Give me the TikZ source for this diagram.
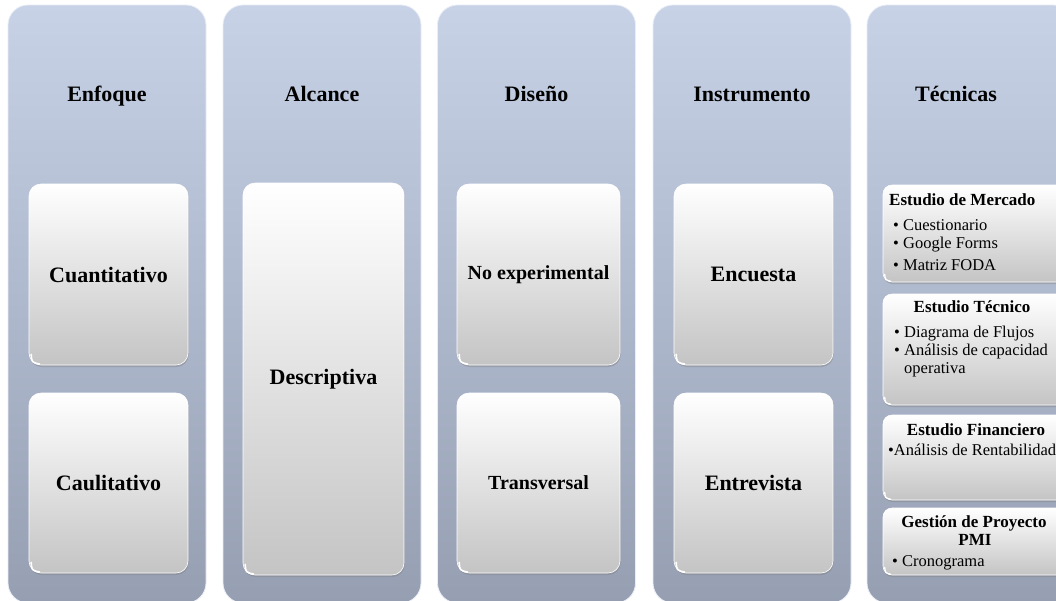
\documentclass[tikz,border=0pt]{standalone}
\usepackage{fontspec}
\setmainfont{Liberation Serif}
\usetikzlibrary{shadows}
\definecolor{coltop}{RGB}{199,210,231}
\definecolor{colbot}{RGB}{150,159,178}
\definecolor{boxbot}{RGB}{196,196,196}
\begin{document}
\begin{tikzpicture}[x=1pt,y=-1pt,
  colbox/.style={rounded corners=20pt, top color=coltop, bottom color=colbot,
    draw=white!60!coltop, line width=0.8pt, minimum width=198pt, minimum height=598pt, inner sep=0pt},
  itembox/.style={rounded corners=12pt, top color=white, bottom color=boxbot,
    draw=white, line width=0.6pt, inner sep=0pt,
    drop shadow={opacity=0.4, shadow xshift=0.6pt, shadow yshift=-2pt}},
  hdr/.style={font=\fontsize{22}{26}\selectfont\bfseries, inner sep=0pt, anchor=base},
  big/.style={font=\fontsize{22}{26}\selectfont\bfseries},
  mid/.style={font=\fontsize{20}{24}\selectfont\bfseries},
  thead/.style={font=\fontsize{17}{20}\selectfont\bfseries, inner sep=0pt},
  titem/.style={font=\fontsize{16.5}{20}\selectfont, inner sep=0pt, anchor=west},
  glint/.style={white, line width=1.6pt, line cap=round}
]
\useasboundingbox (0,0) rectangle (1056,600);
\fill[white] (0,0) rectangle (1056,600);
\begin{scope}
\clip (0,0) rectangle (1056,600);
% columns
\node[colbox] (c1) at (107,304) {};
\node[colbox] (c2) at (322,304) {};
\node[colbox] (c3) at (536.5,304) {};
\node[colbox] (c4) at (752,304) {};
\node[colbox, minimum width=206pt] (c5) at (970,304) {};
% headers
\node[hdr] (h1) at (107,101) {Enfoque};
\node[hdr] (h2) at (322,101) {Alcance};
\node[hdr] (h3) at (536.5,101) {Diseño};
\node[hdr] (h4) at (752,101) {Instrumento};
\node[hdr] (h5) at (956,101) {Técnicas};
% column 1
\node[itembox, big, minimum width=159pt, minimum height=181pt] (cuant) at (108.5,274.5) {Cuantitativo};
\node[itembox, big, minimum width=159pt, minimum height=180pt] (cual) at (108.5,483) {Caulitativo};
% column 2
\node[itembox, big, minimum width=161pt, minimum height=392pt] (desc) at (323.5,379) {Descriptiva};
% column 3
\node[itembox, mid, minimum width=163pt, minimum height=181pt] (noexp) at (538.5,274.5) {No experimental};
\node[itembox, mid, minimum width=163pt, minimum height=180pt] (trans) at (538.5,483) {Transversal};
% column 4
\node[itembox, big, minimum width=159pt, minimum height=181pt] (enc) at (753.5,274.5) {Encuesta};
\node[itembox, big, minimum width=159pt, minimum height=180pt] (ent) at (753.5,483) {Entrevista};
% column 5 boxes
\node[itembox, rounded corners=9pt, minimum width=183pt, minimum height=97pt] (t1) at (974.5,233.5) {};
\node[itembox, rounded corners=9pt, minimum width=183pt, minimum height=111pt] (t2) at (974.5,349.5) {};
\node[itembox, rounded corners=9pt, minimum width=183pt, minimum height=85pt] (t3) at (974.5,457.5) {};
\node[itembox, rounded corners=9pt, minimum width=183pt, minimum height=67pt] (t4) at (974.5,541.5) {};
% glints at bottom-left corners
\foreach \b in {cuant,cual,desc,noexp,trans,enc,ent}{
  \draw[glint] ([xshift=2.5pt,yshift=11pt]\b.south west) .. controls ([xshift=3pt,yshift=3pt]\b.south west) .. ([xshift=11pt,yshift=1.2pt]\b.south west);
}
\foreach \b in {t1,t2,t3,t4}{
  \draw[glint, line width=1.3pt] ([xshift=2pt,yshift=8pt]\b.south west) .. controls ([xshift=2.5pt,yshift=2.5pt]\b.south west) .. ([xshift=8pt,yshift=1pt]\b.south west);
}
% column 5 texts
\node[thead, anchor=west] (t1h) at (889,200) {Estudio de Mercado};
\node[titem] (t1a) at (893,225) {• Cuestionario};
\node[titem] (t1b) at (893,245) {• Google Forms};
\node[titem] (t1c) at (893,265) {• Matriz FODA};
\node[thead] (t2h) at (972,307) {Estudio Técnico};
\node[titem] (t2a) at (894,334) {• Diagrama de Flujos};
\node[titem] (t2b) at (894,352) {• Análisis de capacidad};
\node[titem] (t2c) at (904,370) {operativa};
\node[thead] (t3h) at (976,430) {Estudio Financiero};
\node[titem] (t3a) at (888,450) {•Análisis de Rentabilidad};
\node[thead] (t4h) at (974,523) {Gestión de Proyecto};
\node[thead] (t4p) at (975,540) {PMI};
\node[titem] (t4a) at (892,563) {• Cronograma};
\end{scope}
\end{tikzpicture}
\end{document}
